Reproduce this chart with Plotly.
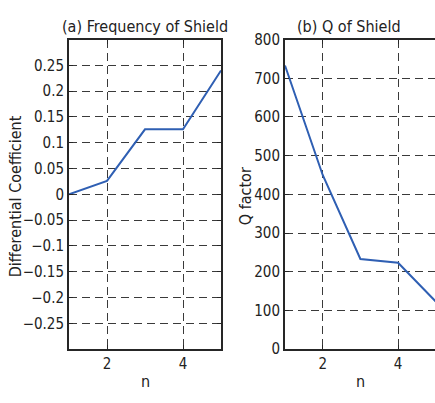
import plotly.graph_objects as go

n = [1, 2, 3, 4, 5]
diff_coef = [0.0, 0.026, 0.126, 0.126, 0.24]
q_factor = [733, 450, 233, 223, 123]

left_ticks = [-0.25, -0.2, -0.15, -0.1, -0.05, 0, 0.05, 0.1, 0.15, 0.2, 0.25]
left_ticktext = ["−0.25", "−0.2", "−0.15", "−0.1", "−0.05", "0", "0.05", "0.1", "0.15", "0.2", "0.25"]
right_ticks = [0, 100, 200, 300, 400, 500, 600, 700, 800]
x_ticks = [2, 4]

W, H = 435, 403
FONT = "DejaVu Sans Condensed, DejaVu Sans"
LINE = "#2f5fb3"
GRID = "#3a3a3a"
AX = "#262626"
FS = 16
TFS = 15

fig = go.Figure()
fig.add_trace(go.Scatter(x=n, y=diff_coef, mode="lines", line=dict(color=LINE, width=2),
                         xaxis="x", yaxis="y", showlegend=False, cliponaxis=True))
fig.add_trace(go.Scatter(x=n, y=q_factor, mode="lines", line=dict(color=LINE, width=2),
                         xaxis="x2", yaxis="y2", showlegend=False, cliponaxis=True))

ydom = [1 - 356 / H, 1 - 32 / H]
common_ax = dict(showline=True, linecolor=AX, linewidth=2, ticks="inside", ticklen=4,
                 tickcolor=AX, showgrid=True, gridcolor=GRID, griddash="8px,5px", gridwidth=1,
                 zeroline=False, tickfont=dict(family=FONT, size=TFS, color="#222"))

fig.update_layout(
    width=W, height=H, margin=dict(l=0, r=0, t=0, b=0),
    paper_bgcolor="white", plot_bgcolor="white",
    xaxis=dict(domain=[69 / W, 221 / W], range=[1, 5], tickvals=x_ticks, anchor="y",
               mirror="ticks", **common_ax),
    yaxis=dict(domain=ydom, range=[-0.3, 0.3], tickvals=left_ticks, ticktext=left_ticktext,
               anchor="x", mirror="ticks", **common_ax),
    xaxis2=dict(domain=[285 / W, 1.0], range=[1, 4.98], tickvals=x_ticks, anchor="y2",
                mirror="ticks", **common_ax),
    yaxis2=dict(domain=ydom, range=[0, 800], tickvals=right_ticks, anchor="x2",
                mirror=False, **common_ax),
    font=dict(family=FONT, color="#222"),
)

ann = [
    dict(text="(a) Frequency of Shield", x=145 / W, y=1 - 18 / H),
    dict(text="(b) Q of Shield", x=349 / W, y=1 - 18 / H),
    dict(text="n", x=145 / W, y=1 - 390 / H),
    dict(text="n", x=360 / W, y=1 - 390 / H),
    dict(text="Differential Coefficient", x=15 / W, y=1 - 196 / H, textangle=-90),
    dict(text="Q factor", x=245 / W, y=1 - 196 / H, textangle=-90),
]
for a in ann:
    fig.add_annotation(xref="paper", yref="paper", showarrow=False, xanchor="center",
                       yanchor="middle", font=dict(family=FONT, size=FS, color="#222"), **a)

fig.write_html("out.html")
